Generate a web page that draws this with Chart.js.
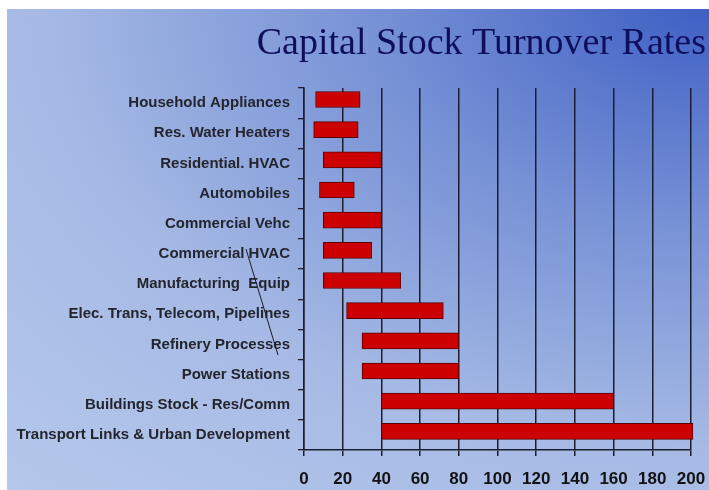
<!DOCTYPE html>
<html>
<head>
<meta charset="utf-8">
<script src="https://cdn.jsdelivr.net/npm/chart.js@4/dist/chart.umd.min.js"></script>
<style>
  html, body { margin: 0; padding: 0; background: #ffffff; }
  #wrap { position: relative; width: 709px; height: 490px; }
  canvas { display: block; }
</style>
</head>
<body>
<div id="wrap"><canvas id="c" width="709" height="490"></canvas></div>
<script>
// Asset categories, top to bottom
const categories = [
  'Household Appliances',
  'Res. Water Heaters',
  'Residential. HVAC',
  'Automobiles',
  'Commercial Vehc',
  'Commercial HVAC',
  'Manufacturing  Equip',
  'Elec. Trans, Telecom, Pipelines',
  'Refinery Processes',
  'Power Stations',
  'Buildings Stock - Res/Comm',
  'Transport Links & Urban Development'
];
// Turnover range (years): shortest and longest lifetime
const lifeMin = [6, 5, 10, 8, 10, 10, 10, 22, 30, 30, 40, 40];
const lifeMax = [29, 28, 40, 26, 40, 35, 50, 72, 80, 80, 160, 201];
// Axis ticks (years)
const xTicks = [0, 20, 40, 60, 80, 100, 120, 140, 160, 180, 200];

const titleText = 'Capital Stock Turnover Rates';

const rangeData = categories.map((c, i) => ({ x: [lifeMin[i], lifeMax[i]], y: i }));

// Slide background: white margin, blue gradient, title and a pen stroke
const slidePlugin = {
  id: 'slide',
  beforeDraw(chart) {
    const ctx = chart.ctx;
    const W = chart.width, H = chart.height;
    ctx.save();
    ctx.fillStyle = '#ffffff';
    ctx.fillRect(0, 0, W, H);
    // elliptical glow from the top-right corner
    ctx.translate(W, 0);
    ctx.scale(1.5, 1);
    const g = ctx.createRadialGradient(0, 0, 0, 0, 0, 720);
    g.addColorStop(0, '#3d5ec4');
    g.addColorStop(0.3, '#7590d5');
    g.addColorStop(0.62, '#a6bae5');
    g.addColorStop(1, '#b8caec');
    ctx.fillStyle = g;
    ctx.fillRect((7 - W) / 1.5, 9, (W - 7) / 1.5, H - 9);
    ctx.restore();
  },
  afterDraw(chart) {
    const ctx = chart.ctx;
    ctx.save();
    ctx.font = '38px "Liberation Serif", "Times New Roman", serif';
    ctx.fillStyle = '#0e0e5c';
    ctx.textAlign = 'right';
    ctx.textBaseline = 'alphabetic';
    ctx.fillText(titleText, 706, 54);
    // hand-drawn pen stroke across the labels
    ctx.strokeStyle = '#1c1c2c';
    ctx.lineWidth = 1;
    ctx.beginPath();
    ctx.moveTo(246, 249);
    ctx.lineTo(278, 355);
    ctx.stroke();
    ctx.restore();
  }
};

new Chart(document.getElementById('c'), {
  type: 'bar',
  data: {
    datasets: [{
      data: rangeData,
      yAxisID: 'yb',
      xAxisID: 'x',
      backgroundColor: '#cc0000',
      borderColor: '#5a0000',
      borderWidth: 1,
      borderSkipped: false,
      barThickness: 16,
      clip: false
    }]
  },
  options: {
    indexAxis: 'y',
    responsive: false,
    animation: false,
    events: [],
    layout: { padding: { top: 88, right: 18, left: 0, bottom: 0 } },
    plugins: { legend: { display: false }, tooltip: { enabled: false } },
    scales: {
      x: {
        type: 'linear',
        position: 'bottom',
        min: 0,
        max: 200,
        afterBuildTicks(scale) { scale.ticks = xTicks.map(v => ({ value: v })); },
        afterFit(scale) {
          scale.height = 40;
          scale.paddingLeft = 0;
          scale.paddingRight = 0;
        },
        grid: { color: '#1c1e2e', lineWidth: 1.5, tickLength: 6, drawOnChartArea: true },
        border: { color: '#1c1e2e', width: 1.5 },
        ticks: {
          color: '#121212',
          padding: 13,
          font: { family: '"Liberation Sans", Arial, sans-serif', size: 17, weight: 'bold' }
        }
      },
      y: {
        type: 'category',
        position: 'left',
        labels: categories,
        offset: true,
        afterFit(scale) {
          scale.width = 304;
          scale.paddingTop = 0;
          scale.paddingBottom = 0;
        },
        grid: { offset: true, drawOnChartArea: false, color: '#1c1e2e', lineWidth: 1.3, tickLength: 6 },
        border: { color: '#1c1e2e', width: 1.5 },
        ticks: {
          color: '#25252e',
          padding: 8,
          autoSkip: false,
          font: { family: '"Liberation Sans", Arial, sans-serif', size: 15, weight: 'bold' }
        }
      },
      yb: {
        type: 'linear',
        position: 'left',
        display: false,
        offset: false,
        reverse: true,
        min: -0.38,
        max: categories.length - 0.38
      }
    }
  },
  plugins: [slidePlugin]
});
</script>
</body>
</html>
